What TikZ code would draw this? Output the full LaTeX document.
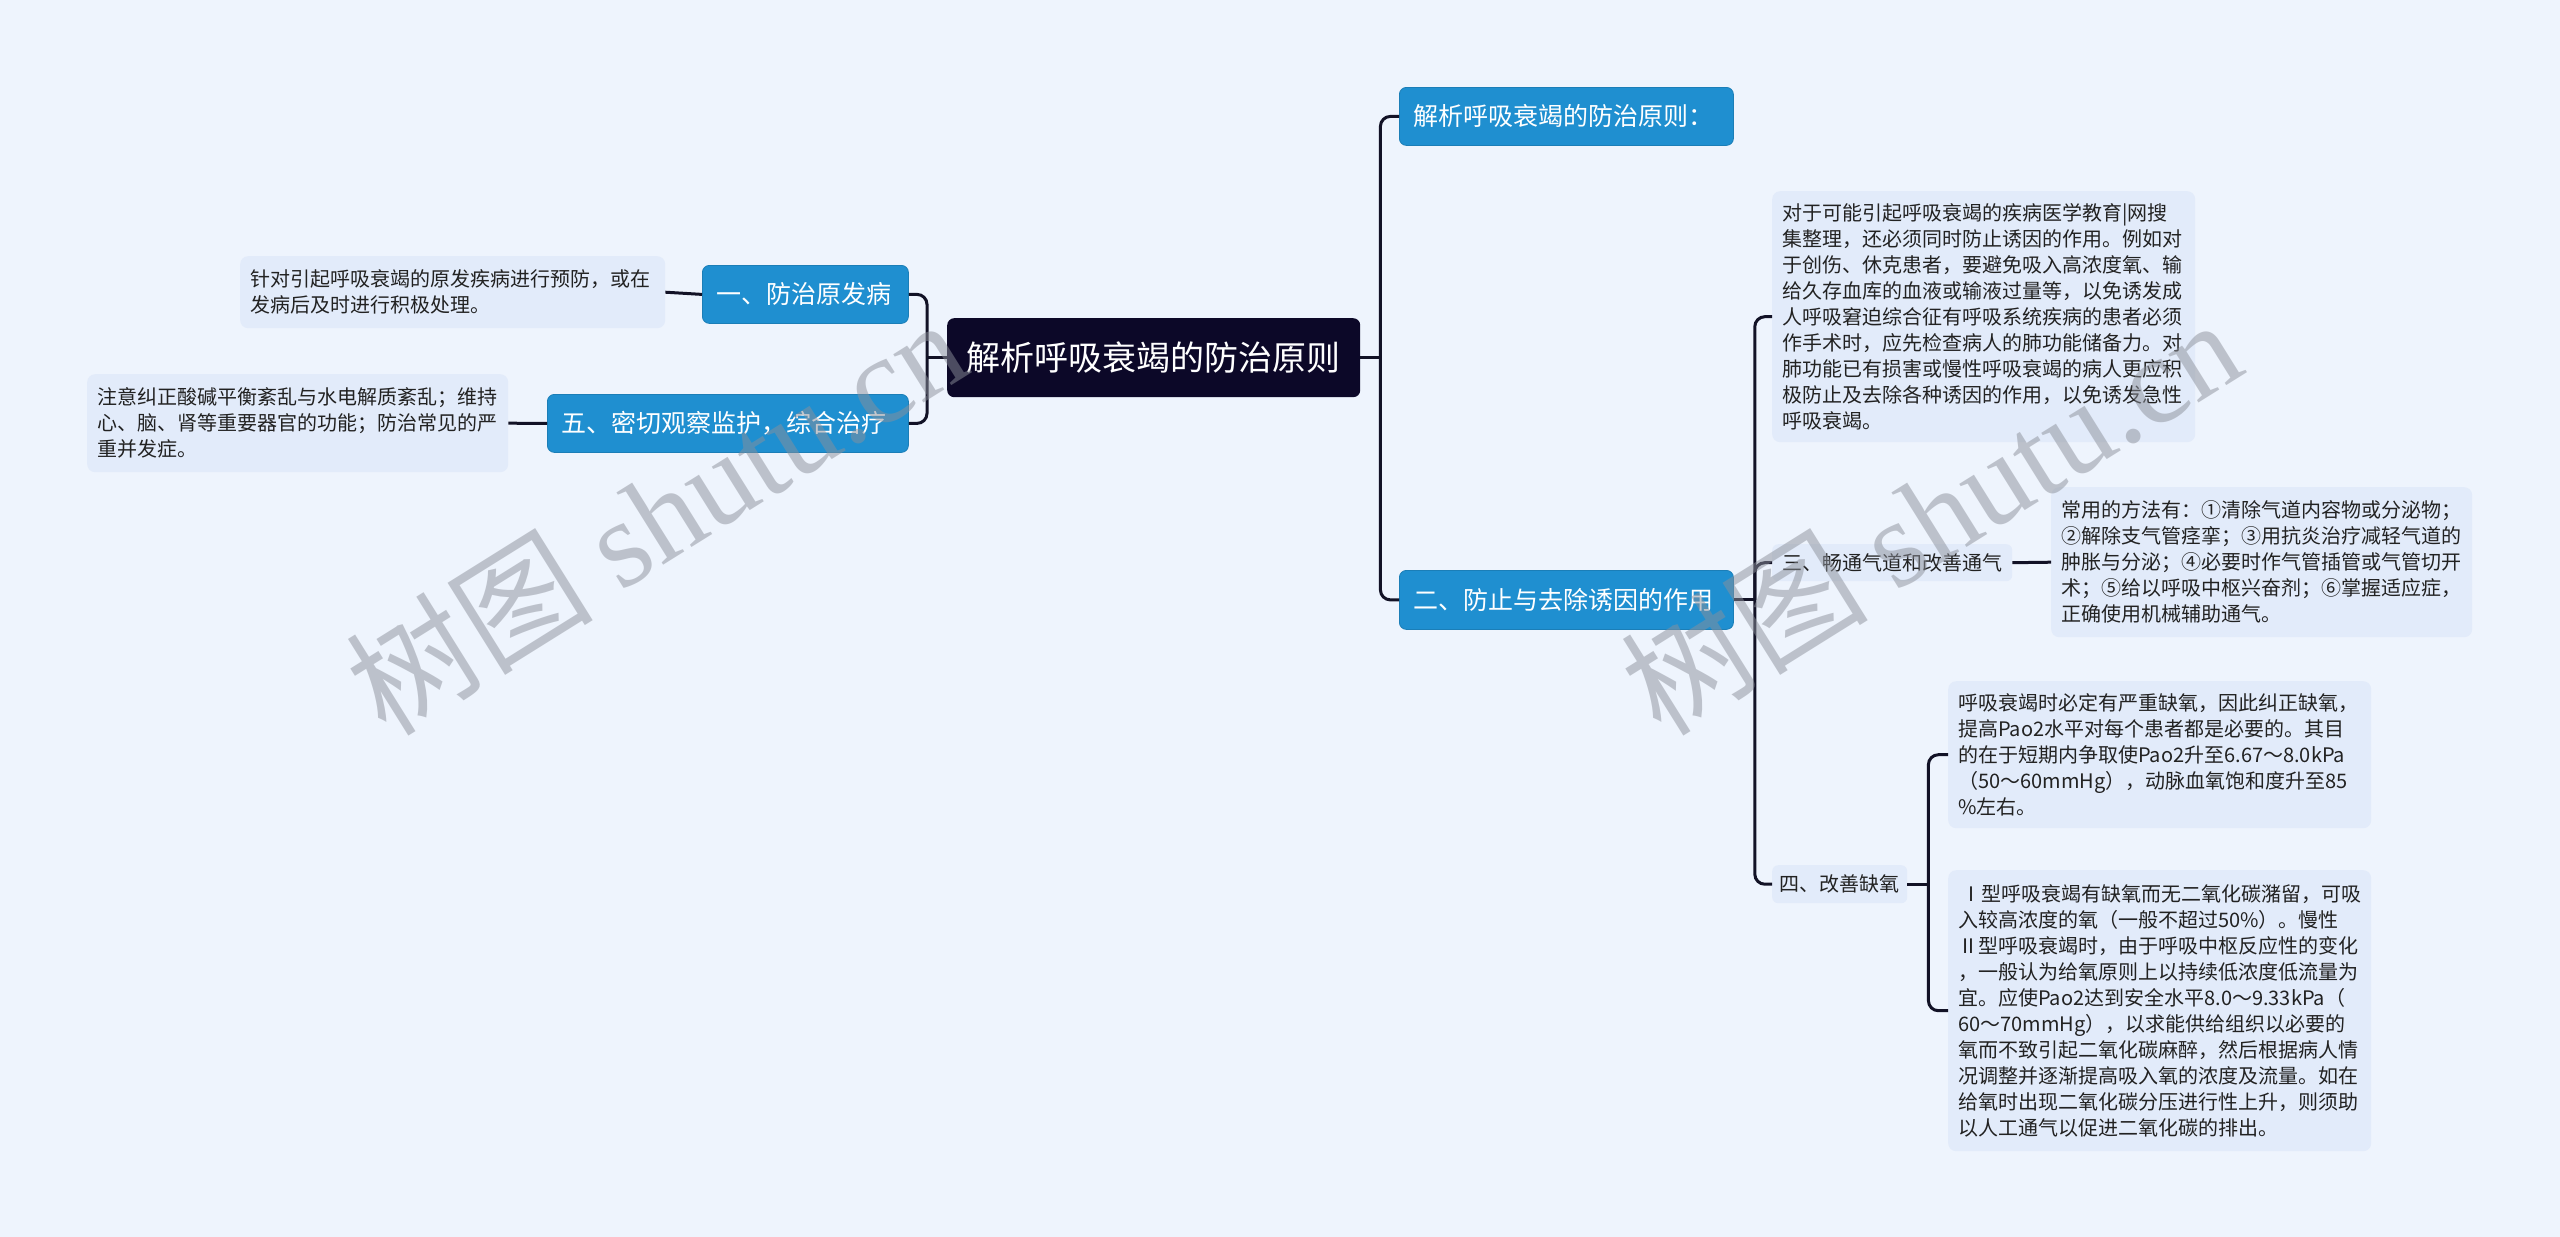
\documentclass[tikz,border=0pt]{standalone}
\usepackage{fontspec}
\setmainfont{Noto Sans CJK SC}
\newfontfamily\wmserif{Liberation Serif}
\definecolor{bgc}{RGB}{238,244,253}
\definecolor{leafc}{RGB}{226,235,250}
\definecolor{bluec}{RGB}{31,143,208}
\definecolor{rootc}{RGB}{12,8,40}
\definecolor{linec}{RGB}{18,18,38}
\definecolor{textc}{RGB}{34,34,34}
\definecolor{wmc}{RGB}{140,144,154}
\begin{document}
\begin{tikzpicture}[x=1pt,y=-1pt,
  conn/.style={draw=linec, line width=3pt, rounded corners=10pt},
  rootbox/.style={fill=rootc, rounded corners=7pt, text=white, anchor=north west,
    font=\fontsize{34}{40}\selectfont, inner xsep=16pt, inner ysep=0pt, align=center},
  bluebox/.style={fill=bluec, draw=bluec!88!black, line width=0.8pt, rounded corners=7pt, text=white,
    anchor=north west, font=\fontsize{25}{30}\selectfont, inner xsep=14pt, inner ysep=0pt, align=left},
  leafbox/.style={fill=leafc, rounded corners=8pt, text=textc, anchor=north west,
    font=\fontsize{20}{26}\selectfont, inner xsep=10pt, inner ysep=0pt, align=left},
  labelbox/.style={fill=leafc, rounded corners=6pt, text=textc, anchor=north west,
    font=\fontsize{20}{26}\selectfont, inner xsep=6pt, inner ysep=0pt, align=center},
  wm/.style={text=wmc, text opacity=0.5, font=\fontsize{124}{130}\selectfont, inner sep=0pt}
]
\useasboundingbox (0,0) rectangle (2560,1237);
\fill[bgc] (0,0) rectangle (2560,1237);

% root
\node[rootbox, text width=381pt, minimum height=79pt] (root) at (947,318) {解析呼吸衰竭的防治原则};

% right main branches
\node[bluebox, text width=306pt, minimum height=58pt] (n1) at (1399,87) {解析呼吸衰竭的防治原则：};
\node[bluebox, text width=306pt, minimum height=59pt] (n2) at (1399,570) {二、防止与去除诱因的作用};

% left main branches
\node[bluebox, text width=178pt, minimum height=58pt] (a1) at (702,265) {一、防治原发病};
\node[bluebox, text width=333pt, minimum height=58pt] (a5) at (547,394) {五、密切观察监护，综合治疗};

% left leaves
\node[leafbox, text width=405pt, minimum height=72pt] (l1) at (240,256)
  {针对引起呼吸衰竭的原发疾病进行预防，或在\\发病后及时进行积极处理。};
\node[leafbox, text width=401pt, minimum height=98pt] (l2) at (87,374)
  {注意纠正酸碱平衡紊乱与水电解质紊乱；维持\\心、脑、肾等重要器官的功能；防治常见的严\\重并发症。};

% right sub-branches of n2
\node[leafbox, text width=403pt, minimum height=251pt] (big) at (1772,191)
  {对于可能引起呼吸衰竭的疾病医学教育|网搜\\集整理，还必须同时防止诱因的作用。例如对\\于创伤、休克患者，要避免吸入高浓度氧、输\\给久存血库的血液或输液过量等，以免诱发成\\人呼吸窘迫综合征有呼吸系统疾病的患者必须\\作手术时，应先检查病人的肺功能储备力。对\\肺功能已有损害或慢性呼吸衰竭的病人更应积\\极防止及去除各种诱因的作用，以免诱发急性\\呼吸衰竭。};
\node[labelbox, text width=228pt, minimum height=37pt] (m3) at (1772,544) {三、畅通气道和改善通气};
\node[labelbox, text width=123pt, minimum height=38pt] (m4) at (1772,865) {四、改善缺氧};

\node[leafbox, text width=401pt, minimum height=150pt] (l3) at (2051,487)
  {常用的方法有：①清除气道内容物或分泌物；\\②解除支气管痉挛；③用抗炎治疗减轻气道的\\肿胀与分泌；④必要时作气管插管或气管切开\\术；⑤给以呼吸中枢兴奋剂；⑥掌握适应症，\\正确使用机械辅助通气。};
\node[leafbox, text width=403pt, minimum height=147pt] (la) at (1948,681)
  {呼吸衰竭时必定有严重缺氧，因此纠正缺氧，\\提高Pao2水平对每个患者都是必要的。其目\\的在于短期内争取使Pao2升至6.67～8.0kPa\\（50～60mmHg），动脉血氧饱和度升至85\\\%左右。};
\node[leafbox, text width=403pt, minimum height=281pt] (lb) at (1948,870)
  {\,Ⅰ型呼吸衰竭有缺氧而无二氧化碳潴留，可吸\\入较高浓度的氧（一般不超过50\%）。慢性\\Ⅱ型呼吸衰竭时，由于呼吸中枢反应性的变化\\，一般认为给氧原则上以持续低浓度低流量为\\宜。应使Pao2达到安全水平8.0～9.33kPa（\\60～70mmHg），以求能供给组织以必要的\\氧而不致引起二氧化碳麻醉，然后根据病人情\\况调整并逐渐提高吸入氧的浓度及流量。如在\\给氧时出现二氧化碳分压进行性上升，则须助\\以人工通气以促进二氧化碳的排出。};

% connectors
\draw[conn] (root.east) -- ++(20,0) coordinate (rj);
\draw[conn] (n1.west) -| (rj) |- (n2.west);
\draw[conn] (root.west) -- ++(-20,0) coordinate (lj);
\draw[conn] (a1.east) -| (lj) |- (a5.east);
\draw[conn] (a1.west) -- (l1.east);
\draw[conn] (a5.west) -- (l2.east);
\draw[conn] (n2.east) -- ++(21,0) coordinate (sj);
\draw[conn] (big.west) -| (sj) |- (m4.west);
\draw[conn] (sj) |- (m3.west);
\draw[conn] (m3.east) -- (l3.west);
\draw[conn] (m4.east) -- ++(21,0) coordinate (qj);
\draw[conn] (la.west) -| (qj) |- (lb.west);

% watermarks
\node[wm, rotate=32] (wm1) at (655,515) {树图 {\wmserif shutu.cn}};
\node[wm, rotate=32] (wm2) at (1930,515) {树图 {\wmserif shutu.cn}};
\end{tikzpicture}
\end{document}
